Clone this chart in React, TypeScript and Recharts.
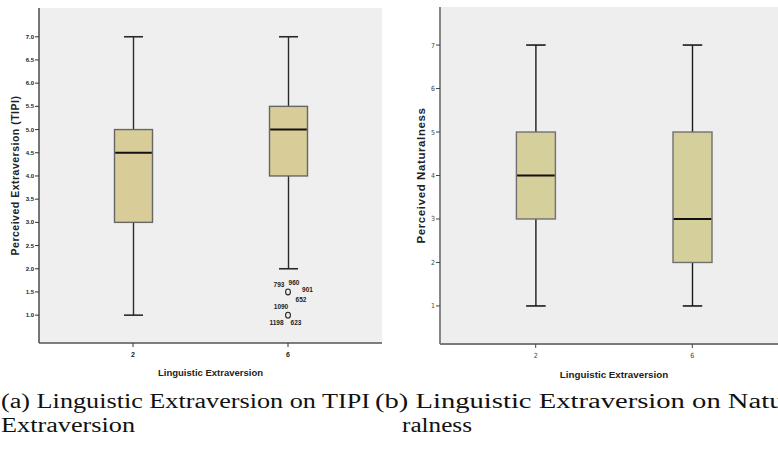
import { ComposedChart, Bar, Scatter, XAxis, YAxis, CartesianGrid } from 'recharts'

// categories on the x axis (linguistic extraversion level)
const categories = ['2', '6']

// (a) perceived extraversion (TIPI)
const tipiMin = [1.0, 2.0]
const tipiQ1 = [3.0, 4.0]
const tipiMedian = [4.5, 5.0]
const tipiQ3 = [5.0, 5.5]
const tipiMax = [7.0, 7.0]
const tipiTicks = [1.0, 1.5, 2.0, 2.5, 3.0, 3.5, 4.0, 4.5, 5.0, 5.5, 6.0, 6.5, 7.0]
const tipiOutlierCats = ['6', '6']
const tipiOutlierValues = [1.5, 1.0]
const tipiOutlierCases = [['793', '960', '901', '652'], ['1090', '1198', '623']]

// (b) perceived naturalness
const natMin = [1, 1]
const natQ1 = [3, 2]
const natMedian = [4, 3]
const natQ3 = [5, 5]
const natMax = [7, 7]
const natTicks = [1, 2, 3, 4, 5, 6, 7]

const captionA = ['(a) Linguistic Extraversion on TIPI', 'Extraversion']
const captionB = ['(b) Linguistic Extraversion on Natu-', 'ralness']

const buildRows = (min: number[], q1: number[], med: number[], q3: number[], max: number[]) =>
  categories.map((cat, i) => ({
    cat,
    range: [min[i], max[i]],
    min: min[i],
    q1: q1[i],
    median: med[i],
    q3: q3[i],
    max: max[i],
  }))

const tipiRows = buildRows(tipiMin, tipiQ1, tipiMedian, tipiQ3, tipiMax)
const natRows = buildRows(natMin, natQ1, natMedian, natQ3, natMax)
const tipiOutliers = tipiOutlierValues.map((value, i) => ({
  cat: tipiOutlierCats[i],
  value,
  cases: tipiOutlierCases[i],
}))

// where each case number sits around its outlier marker (SPSS style)
const CASE_OFFSETS: Record<string, [number, number]> = {
  '793': [-9, -7],
  '960': [6, -9.5],
  '901': [19.5, -2.5],
  '652': [13, 7.5],
  '1090': [-7, -8.5],
  '1198': [-11.5, 7.5],
  '623': [8, 7.5],
}

interface BoxStyle {
  fill: string
  stroke: string
  whisker: string
}

const makeBoxShape = (s: BoxStyle) => (props: any) => {
  const { x, y, width, height, payload } = props
  if (x == null || y == null) return <g />
  const top = Math.min(y, y + height)
  const bottom = Math.max(y, y + height)
  const { min, max, q1, median, q3 } = payload
  // linear scale between the whisker ends the bar was drawn with
  const py = (v: number) => top + ((max - v) / (max - min)) * (bottom - top)
  const cx = x + width / 2
  const cap = width / 4
  return (
    <g>
      <line x1={cx} x2={cx} y1={py(max)} y2={py(q3)} stroke={s.whisker} strokeWidth={1.4} />
      <line x1={cx} x2={cx} y1={py(q1)} y2={py(min)} stroke={s.whisker} strokeWidth={1.4} />
      <line x1={cx - cap} x2={cx + cap} y1={py(max)} y2={py(max)} stroke={s.whisker} strokeWidth={1.6} />
      <line x1={cx - cap} x2={cx + cap} y1={py(min)} y2={py(min)} stroke={s.whisker} strokeWidth={1.6} />
      <rect x={x} y={py(q3)} width={width} height={py(q1) - py(q3)} fill={s.fill} stroke={s.stroke} strokeWidth={1.4} />
      <line x1={x + 0.7} x2={x + width - 0.7} y1={py(median)} y2={py(median)} stroke="#111" strokeWidth={2} />
    </g>
  )
}

const OutlierShape = (props: any) => {
  const { cx, cy, payload } = props
  if (cx == null || cy == null) return <g />
  return (
    <g>
      <ellipse cx={cx} cy={cy} rx={2.4} ry={2.9} fill="none" stroke="#222" strokeWidth={1.1} />
      {(payload.cases as string[]).map((c) => {
        const [dx, dy] = CASE_OFFSETS[c] || [0, 0]
        return (
          <text key={c} x={cx + dx} y={cy + dy} textAnchor="middle" dominantBaseline="central"
            fontSize={6.5} fontWeight={700} fill="#222" fontFamily="'Liberation Sans', Arial, sans-serif">
            {c}
          </text>
        )
      })}
    </g>
  )
}

const SANS = "'Liberation Sans', Arial, sans-serif"
const NARROW = "'DejaVu Sans Condensed', 'Liberation Sans Narrow', sans-serif"

function TipiChart() {
  const frame = { stroke: '#555', strokeWidth: 1.6 }
  return (
    <ComposedChart width={390} height={380} data={tipiRows} margin={{ top: 8, right: 8, bottom: 0, left: 0 }}>
      <CartesianGrid horizontal={false} vertical={false} fill="#efefef" fillOpacity={1} />
      <XAxis dataKey="cat" allowDuplicatedCategory={false} padding={{ left: 16.5, right: 16.5 }} height={37}
        axisLine={frame} tickLine={{ stroke: '#333' }} tickSize={4} tickMargin={5}
        tick={{ fontSize: 7, fontWeight: 700, fill: '#222', fontFamily: SANS }}
        label={{ value: 'Linguistic Extraversion', position: 'insideBottom', offset: 4,
          style: { fontSize: 9.5, fontWeight: 700, fill: '#222', fontFamily: SANS } }} />
      <XAxis xAxisId="top" orientation="top" dataKey="cat" allowDuplicatedCategory={false} height={0}
        tick={false} tickLine={false} axisLine={frame} />
      <YAxis domain={[0.4, 7.62]} ticks={tipiTicks} interval={0} width={39} axisLine={frame}
        tickLine={{ stroke: '#333' }} tickSize={4} tickMargin={1}
        tickFormatter={(v: number) => v.toFixed(1)}
        tick={{ fontSize: 6, fontWeight: 700, fill: '#222', fontFamily: SANS }}
        label={{ value: 'Perceived Extraversion (TIPI)', angle: -90, position: 'insideLeft', offset: 15,
          style: { textAnchor: 'middle', fontSize: 10.5, letterSpacing: 0.5, fontWeight: 700, fill: '#222', fontFamily: SANS } }} />
      <YAxis yAxisId="right" orientation="right" width={0} tick={false} tickLine={false} axisLine={frame} />
      <Bar dataKey="range" barSize={38} isAnimationActive={false}
        shape={makeBoxShape({ fill: '#d8cd98', stroke: '#666', whisker: '#2a2a2a' })} />
      <Scatter data={tipiOutliers} dataKey="value" shape={OutlierShape} isAnimationActive={false} />
    </ComposedChart>
  )
}

function NaturalnessChart() {
  const frame = { stroke: '#7a7a7a', strokeWidth: 1.8 }
  return (
    <ComposedChart width={440} height={381} data={natRows} margin={{ top: 7, right: 42, bottom: 0, left: 0 }}>
      <CartesianGrid horizontal={false} vertical={false} fill="#eeeeee" fillOpacity={1} />
      <XAxis dataKey="cat" padding={{ left: 17.4, right: 17.4 }} height={37}
        axisLine={frame} tickLine={{ stroke: '#444' }} tickSize={4} tickMargin={5}
        tick={{ fontSize: 7, fill: '#444', fontFamily: NARROW }}
        label={{ value: 'Linguistic Extraversion', position: 'insideBottom', offset: 3,
          style: { fontSize: 9.8, fontWeight: 700, fill: '#222', fontFamily: SANS } }} />
      <XAxis xAxisId="top" orientation="top" dataKey="cat" height={0}
        tick={false} tickLine={false} axisLine={frame} />
      <YAxis domain={[0.125, 7.875]} ticks={natTicks} interval={0} width={50} axisLine={frame}
        tickLine={{ stroke: '#444' }} tickSize={4} tickMargin={1}
        tick={{ fontSize: 7, fill: '#444', fontFamily: NARROW }}
        label={{ value: 'Perceived Naturalness', angle: -90, position: 'insideLeft', offset: 30.5,
          style: { textAnchor: 'middle', fontSize: 11.5, letterSpacing: 0.6, fontWeight: 700, fill: '#222', fontFamily: SANS } }} />
      <Bar dataKey="range" barSize={39} isAnimationActive={false}
        shape={makeBoxShape({ fill: '#d4cf9b', stroke: '#707070', whisker: '#1a1a1a' })} />
    </ComposedChart>
  )
}

export default function App() {
  const cap = { fontFamily: "'Liberation Serif', 'Times New Roman', serif", fontSize: 20, fill: '#111' }
  return (
    <div style={{ position: 'fixed', left: 0, top: 0, width: 778, height: 449, overflow: 'hidden', background: '#fff' }}>
      <div style={{ position: 'absolute', left: 0, top: 0 }}>
        <TipiChart />
      </div>
      <div style={{ position: 'absolute', left: 390, top: 0, width: 440 }}>
        <NaturalnessChart />
      </div>
      <svg width={820} height={449} style={{ position: 'absolute', left: 0, top: 0 }}>
        <text x={1} y={408} textLength={369} lengthAdjust="spacingAndGlyphs" {...cap}>{captionA[0]}</text>
        <text x={1} y={432} textLength={134} lengthAdjust="spacingAndGlyphs" {...cap}>{captionA[1]}</text>
        <text x={375} y={408} textLength={418} lengthAdjust="spacingAndGlyphs" {...cap}>{captionB[0]}</text>
        <text x={402} y={432} textLength={70} lengthAdjust="spacingAndGlyphs" {...cap}>{captionB[1]}</text>
      </svg>
    </div>
  )
}
